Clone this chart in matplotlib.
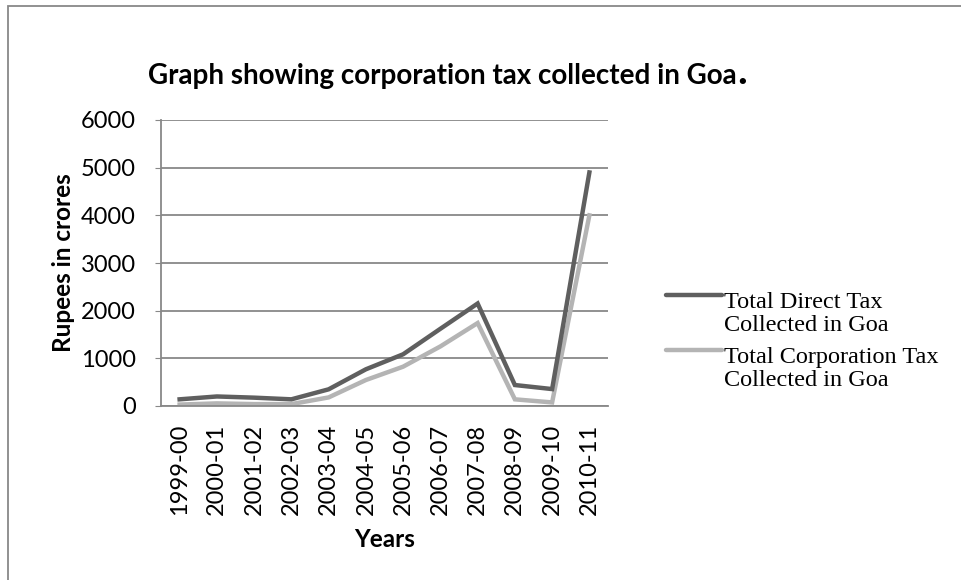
import matplotlib.pyplot as plt
from matplotlib.lines import Line2D
from matplotlib.patches import Rectangle

years = ["1999-00", "2000-01", "2001-02", "2002-03", "2003-04", "2004-05",
         "2005-06", "2006-07", "2007-08", "2008-09", "2009-10", "2010-11"]
direct_tax = [140, 200, 175, 140, 350, 770, 1085, 1620, 2150, 440, 355, 4900]
corp_tax = [30, 55, 40, 40, 180, 545, 825, 1250, 1740, 140, 75, 4000]
y_ticks = [0, 1000, 2000, 3000, 4000, 5000, 6000]

dark = "#5f5f5f"
light = "#b4b4b4"
grid_col = "#888888"
sans = "Lato"
serif = "Liberation Serif"

W, H = 961, 580
fig = plt.figure(figsize=(W / 100, H / 100), dpi=100)

# outer chart border
fig.add_artist(Rectangle((8 / W, -0.1), 1.2, 1.1 - 6 / H, transform=fig.transFigure,
                         fill=False, edgecolor=grid_col, lw=1.3))

ax = fig.add_axes([161 / W, (H - 406) / H, 447 / W, 286 / H])
x = list(range(len(years)))
ax.plot(x, direct_tax, color=dark, lw=3.2, solid_joinstyle="miter", zorder=3)
ax.plot(x, corp_tax, color=light, lw=3.2, solid_joinstyle="miter", zorder=2)

ax.set_xlim(-0.5, len(years) - 0.5)
ax.set_ylim(0, 6000)
ax.set_yticks(y_ticks)
ax.set_yticklabels([str(v) for v in y_ticks], fontfamily=sans, fontsize=17)
ax.set_xticks(x)
ax.set_xticklabels(years, rotation=90, fontfamily=sans, fontsize=17)
ax.tick_params(axis="x", length=0, pad=13)
ax.tick_params(axis="y", length=4, color=grid_col, pad=14)
ax.yaxis.grid(True, color=grid_col, lw=1.3)
ax.set_axisbelow(True)
for side in ["top", "right"]:
    ax.spines[side].set_visible(False)
for side in ["left", "bottom"]:
    ax.spines[side].set_color(grid_col)
    ax.spines[side].set_linewidth(1.3)

ax.set_ylabel("Rupees in crores", fontfamily=sans, fontweight="bold", fontsize=17.5, labelpad=4.5)
ax.set_xlabel("Years", fontfamily=sans, fontweight="bold", fontsize=17.5, labelpad=9)

title = fig.text(148 / W, 1 - 76 / H, "Graph showing corporation tax collected in Goa",
                 fontfamily=sans, fontweight="bold", fontsize=20, va="center", ha="left")
fig.canvas.draw()
tb = title.get_window_extent()
# the full stop is set in a larger size right after the title
fig.text(tb.x1 / W + 1 / W, 1 - 72 / H, ".", fontfamily=sans, fontweight="bold",
         fontsize=30, va="center", ha="left")

# legend entries
entries = [("Total Direct Tax\nCollected in Goa", dark, 295, 314),
           ("Total Corporation Tax\nCollected in Goa", light, 350, 369)]
for label, col, ypx, ytxt in entries:
    fig.add_artist(Line2D([666 / W, 722 / W], [1 - ypx / H, 1 - ypx / H],
                          color=col, lw=3.2, solid_capstyle="round",
                          transform=fig.transFigure))
    fig.text(724 / W, 1 - ytxt / H, label, fontfamily=serif, fontsize=17.5,
             va="center", ha="left", linespacing=1.12)

fig.savefig("out.png", dpi=100)
